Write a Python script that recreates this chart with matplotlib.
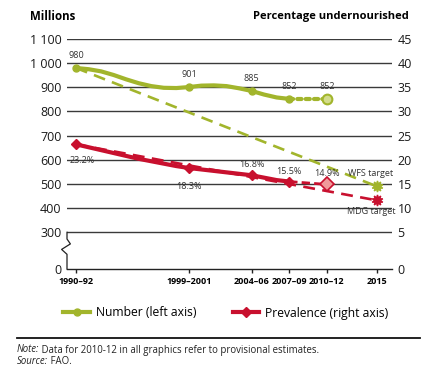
import numpy as np
import matplotlib
matplotlib.use('Agg')
import matplotlib.pyplot as plt
from matplotlib.lines import Line2D

plt.rcParams['font.family'] = ['Open Sans', 'DejaVu Sans']

# number of undernourished (millions), yearly
num_years = [1991, 1992, 1993, 1994, 1995, 1996, 1997, 1998, 1999, 2000,
             2001, 2002, 2003, 2004, 2005, 2006, 2007, 2008]
num_values = [980, 975, 966, 951, 933, 917, 905, 898, 897, 901,
              907, 908, 905, 896, 885, 870, 858, 852]
# prevalence (%), yearly
prev_values = [23.2, 22.6, 22.0, 21.4, 20.8, 20.2, 19.7, 19.2, 18.7, 18.3,
               18.0, 17.7, 17.4, 17.1, 16.8, 16.3, 15.8, 15.5]

key_years = [1991, 2000, 2005, 2008, 2011]
key_num = [980, 901, 885, 852, 852]
key_prev = [23.2, 18.3, 16.8, 15.5, 14.9]

wfs_target = 490
mdg_target = 11.6

tick_years = [1991, 2000, 2005, 2008, 2011, 2015]
tick_labels = ['1990\u201392', '1999\u20132001', '2004\u201306', '2007\u201309', '2010\u201312', '2015']
left_ticks = [0, 300, 400, 500, 600, 700, 800, 900, 1000, 1100]
left_labels = ['0', '300', '400', '500', '600', '700', '800', '900', '1 000', '1 100']
right_ticks = [0, 5, 10, 15, 20, 25, 30, 35, 40, 45]

green = '#a2b52c'
red = '#c8102e'
grid = '#3a3a3a'


# broken axis: everything under 300 (left) / 5 (right) is squeezed
def fwd_left(v):
    v = np.asarray(v, dtype=float)
    return np.where(v >= 300, v, 148 + v * 152 / 300)


def inv_left(p):
    p = np.asarray(p, dtype=float)
    return np.where(p >= 300, p, (p - 148) * 300 / 152)


def fwd_right(r):
    r = np.asarray(r, dtype=float)
    return np.where(r >= 5, 200 + 20 * r, 148 + r * 152 / 5)


def inv_right(p):
    p = np.asarray(p, dtype=float)
    return np.where(p >= 300, (p - 200) / 20, (p - 148) * 5 / 152)


fig = plt.figure(figsize=(4.36, 3.81), dpi=100)
ax = fig.add_axes([67 / 436, 1 - 269 / 381, (392 - 67) / 436, (269 - 39) / 381])
ax.set_yscale('function', functions=(fwd_left, inv_left))
ax.set_ylim(0, 1100)
ax.set_xlim(1990.28, 2016.2)

ax2 = ax.twinx()
ax2.set_yscale('function', functions=(fwd_right, inv_right))
ax2.set_ylim(0, 45)

# gridlines
for t in left_ticks[1:]:
    ax.axhline(t, color=grid, lw=1.0, zorder=1)

for a in (ax, ax2):
    for s in ['top', 'right', 'left', 'bottom']:
        a.spines[s].set_visible(False)
ax.spines['bottom'].set_visible(True)
ax.spines['bottom'].set_color('#222222')
ax.spines['bottom'].set_linewidth(1.0)

# left axis stub with zigzag break
zx = [1990.28, 1990.28, 1989.85, 1990.55, 1990.28, 1990.28]
zy = [0, 120, 160, 205, 245, 300]
ax.plot(zx, zy, color='#222222', lw=0.9, clip_on=False, zorder=2)

ax.set_yticks(left_ticks)
ax.set_yticklabels(left_labels)
ax.tick_params(axis='y', length=0, pad=4, labelsize=9, labelcolor='#1a1a1a')
ax2.set_yticks(right_ticks)
ax2.tick_params(axis='y', length=0, pad=4, labelsize=9, labelcolor='#1a1a1a')

ax.set_xticks(tick_years)
ax.set_xticklabels(tick_labels, fontweight='bold')
ax.tick_params(axis='x', length=3, width=1, direction='out', labelsize=6.5, pad=3, color='#222222')

# target lines
ax.plot([1991, 2015], [980, wfs_target], color=green, lw=1.9, ls=(0, (4.5, 2.8)), zorder=3)
ax.plot([2015], [wfs_target], marker=(10, 1, 0), ms=8, color=green, zorder=5)
ax2.plot([1991, 2015], [23.2, mdg_target], color=red, lw=1.9, ls=(0, (4.5, 2.8)), zorder=3)
ax2.plot([2015], [mdg_target], marker=(10, 1, 0), ms=8, color=red, zorder=5)

# number series
ax.plot(num_years, num_values, color=green, lw=3, solid_capstyle='round', zorder=4)
ax.plot(key_years[:4], key_num[:4], 'o', color=green, ms=5, zorder=5)
ax.plot(key_years[3:], key_num[3:], color=green, lw=3, ls=(0, (1, 1)), dash_capstyle='round', zorder=4)
ax.plot([2011], [852], 'o', ms=7, mfc='#d2dc8c', mec=green, mew=1.5, zorder=6)

# prevalence series
ax2.plot(num_years, prev_values, color=red, lw=3, solid_capstyle='round', zorder=4)
ax2.plot(key_years[:4], key_prev[:4], 'D', color=red, ms=5, zorder=5)
ax2.plot(key_years[3:], key_prev[3:], color=red, lw=2, ls=(0, (3, 1.5)), zorder=4)
ax2.plot([2011], [14.9], 'D', ms=7, mfc='#f09a9a', mec=red, mew=1.2, zorder=6)

lab = dict(fontsize=6.5, color='#333333', ha='center', textcoords='offset pixels')
for yr, v in zip(key_years, key_num):
    ax.annotate(str(v), (yr, v), xytext=(0, 8), va='bottom', **lab)

prev_off = [(6, -12), (0, -14), (0, 6), (0, 6), (0, 6)]
for yr, v, off in zip(key_years, key_prev, prev_off):
    ax2.annotate('%.1f%%' % v, (yr, v), xytext=off,
                 va='top' if off[1] < 0 else 'bottom', **lab)

ax.annotate('WFS target', (2015, wfs_target), xytext=(-6, 8), fontsize=6.5, color='#333333',
            ha='center', va='bottom', textcoords='offset pixels')
ax2.annotate('MDG target', (2015, mdg_target), xytext=(-6, -7), fontsize=6.5, color='#333333',
             ha='center', va='top', textcoords='offset pixels')

# axis titles
fig.text(30 / 436, 1 - 16 / 381, 'Millions', fontsize=8.3, fontweight='bold', va='center', ha='left')
fig.text(409 / 436, 1 - 16 / 381, 'Percentage undernourished', fontsize=8.0, fontweight='bold',
         va='center', ha='right')

# legend
handles = [Line2D([], [], color=green, lw=3, marker='o', ms=5),
           Line2D([], [], color=red, lw=3, marker='D', ms=5)]
fig.legend(handles, ['Number (left axis)', 'Prevalence (right axis)'], loc='center',
           bbox_to_anchor=(226 / 436, 1 - 313 / 381), ncol=2, frameon=False, fontsize=8.7,
           handlelength=2.2, handletextpad=0.5, columnspacing=3.0)

# rule and notes
fig.add_artist(Line2D([17 / 436, 420 / 436], [1 - 338 / 381] * 2, color='#111111', lw=1.3))
t1 = fig.text(17 / 436, 1 - 350 / 381, 'Note:', fontsize=6.9, style='italic', color='#222222', va='center')
ax.annotate(' Data for 2010-12 in all graphics refer to provisional estimates.', xy=(1, 0.5),
            xycoords=t1, va='center', fontsize=6.9, color='#222222')
t2 = fig.text(17 / 436, 1 - 362 / 381, 'Source:', fontsize=6.9, style='italic', color='#222222', va='center')
ax.annotate(' FAO.', xy=(1, 0.5), xycoords=t2, va='center', fontsize=6.9, color='#222222')

fig.savefig('out.png', dpi=100)
